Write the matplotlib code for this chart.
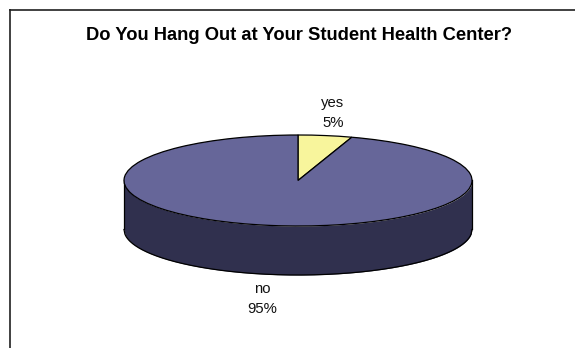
import numpy as np
import matplotlib
matplotlib.use('Agg')
import matplotlib.pyplot as plt

# Data
labels = ['yes', 'no']
sizes = [5, 95]
colors = ['#f8f59c', '#666699']
side_color = '#30304e'

# Pie geometry in pixels
W, H = 575, 348
cx, cy = 298, 180.5
rx, ry = 174, 45.5
depth = 49
k = rx / ry  # squash factor for the 3D look

plt.rcParams['font.family'] = ['Liberation Sans', 'DejaVu Sans']

fig = plt.figure(figsize=(W / 100, H / 100), dpi=100)
ax = fig.add_axes([0, 0, 1, 1])

# side wall
xs = np.linspace(cx - rx, cx + rx, 400)
edge = ry * np.sqrt(np.clip(1 - ((xs - cx) / rx) ** 2, 0, 1))
top = (H - cy - edge) * k
bottom = (H - cy - depth - edge) * k
ax.fill_between(xs, bottom, top, color=side_color, lw=0, zorder=1)
ax.plot(xs, bottom, color='black', lw=0.9, zorder=2)
for x in [cx - rx, cx + rx]:
    ax.plot([x, x], [(H - cy) * k, (H - cy - depth) * k], color='black', lw=0.9, zorder=2)

# top face, clockwise from 12 o'clock
wedges, _ = ax.pie(sizes, colors=colors, startangle=90, counterclock=False,
                   radius=rx, center=(cx, (H - cy) * k),
                   wedgeprops=dict(edgecolor='black', linewidth=0.9, zorder=3))

ax.set_aspect('auto')
ax.set_xlim(0, W)
ax.set_ylim(0, H * k)
ax.axis('off')


def px(x, y):
    return x / W, 1 - y / H


# Chart frame
fig.add_artist(plt.Line2D([9.5 / W, 9.5 / W], [0, 1 - 9.5 / H], color='#404040', lw=1.4))
fig.add_artist(plt.Line2D([9.5 / W, 1], [1 - 9.5 / H, 1 - 9.5 / H], color='#202020', lw=1.2))

fig.text(*px(299, 36), 'Do You Hang Out at Your Student Health Center?', ha='center', va='center',
         fontsize=13.2, fontweight='bold', color='black')
for label, size, x, y in [(labels[0], sizes[0], 333, 113), (labels[1], sizes[1], 262, 299)]:
    fig.text(*px(x, y), f'{label}\n{size}%', ha='center', va='center', ma='center', fontsize=10.7,
             color='#111111', linespacing=1.5)

fig.savefig('out.png', dpi=100)
